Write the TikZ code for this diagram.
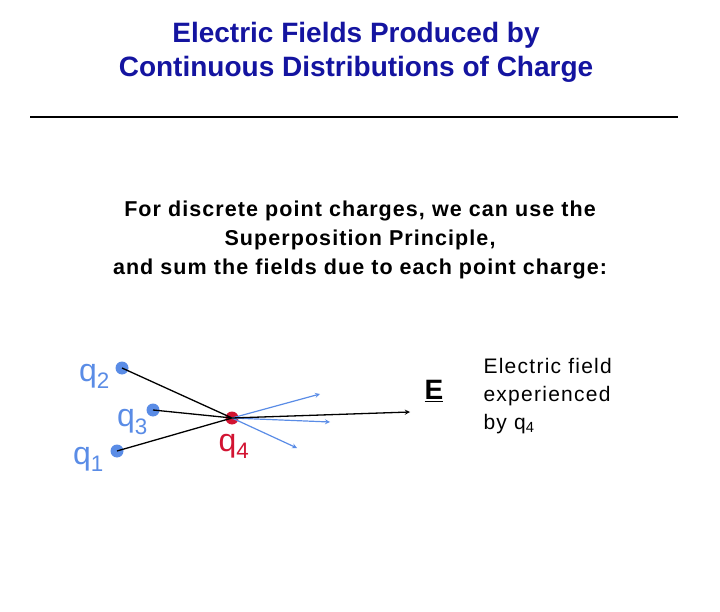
\documentclass[tikz,border=0pt]{standalone}
\usepackage{fontspec}
\setmainfont{Liberation Sans}
\definecolor{ttl}{RGB}{20,20,160}
\definecolor{qb}{RGB}{90,140,230}
\definecolor{qr}{RGB}{210,20,50}
\begin{document}
\begin{tikzpicture}[x=1pt,y=-1pt,
  dot/.style={circle,fill=qb,inner sep=0pt,minimum size=13pt},
  qlab/.style={text=qb,font=\fontsize{32}{34}\selectfont,inner sep=0pt},
  fld/.style={qb,line width=1.2pt,-stealth},
  src/.style={black,line width=1.3pt}]
\useasboundingbox (0,0) rectangle (720,612);
\node[text=ttl,font=\bfseries\fontsize{28}{34}\selectfont,align=center] (title) at (356,52) {Electric Fields Produced by\\Continuous Distributions of Charge};
\draw[line width=1.3pt] (30,117) -- (678,117);
\node[font=\bfseries\fontsize{21.5}{29}\selectfont\addfontfeature{LetterSpace=5},align=center] (txt) at (360,240) {For discrete point charges, we can use the\\Superposition Principle,\\and sum the fields due to each point charge:};
\node[dot] (q2) at (122,368) {};
\node[dot] (q3) at (153,410) {};
\node[dot] (q1) at (117,451) {};
\node[circle,fill=qr,inner sep=0pt,minimum size=13pt] (q4) at (232,418) {};
\node[qlab,anchor=east] (l2) at (110,376) {q\textsubscript{2}};
\node[qlab,anchor=east] (l3) at (148,422) {q\textsubscript{3}};
\node[qlab,anchor=east] (l1) at (104,459) {q\textsubscript{1}};
\node[qlab,text=qr] (l4) at (234,446) {q\textsubscript{4}};
\draw[src] (q2.center) -- (q4.center);
\draw[src] (q3.center) -- (q4.center);
\draw[src] (q1.center) -- (q4.center);
\coordinate (a1) at (320,394);
\coordinate (a2) at (330,422);
\coordinate (a3) at (297,448);
\coordinate (ae) at (410,412);
\draw[fld] (q4.center) -- (a1);
\draw[fld] (q4.center) -- (a2);
\draw[fld] (q4.center) -- (a3);
\draw[line width=1.3pt,-stealth] (q4.center) -- (ae);
\node[font=\bfseries\fontsize{28}{30}\selectfont] (E) at (434,391) {\underline{E}};
\node[font=\fontsize{21}{28}\selectfont\addfontfeature{LetterSpace=6},align=left,anchor=west] (desc) at (480,396) {Electric field\\experienced\\by q\textsubscript{4}};
\end{tikzpicture}
\end{document}
